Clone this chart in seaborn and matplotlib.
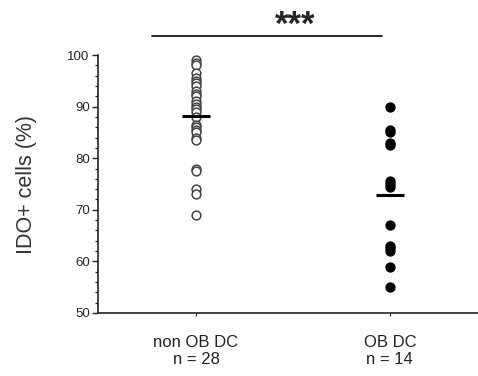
import numpy as np
import pandas as pd
import matplotlib
matplotlib.use("Agg")
import matplotlib.pyplot as plt
import seaborn as sns
from matplotlib.ticker import MultipleLocator

categories = ["non OB DC\nn = 28", "OB DC\nn = 14"]
non_ob = [99, 98.5, 98, 96.5, 95.5, 95, 94.5, 94, 93, 92.5, 92, 91, 90.5, 90,
          89.5, 89, 88, 86.5, 86, 85.5, 85, 84, 83.5, 78, 77.5, 74, 73, 69]
ob = [90, 85.5, 85, 83, 82.5, 75.5, 75, 74.5, 67, 63, 62.5, 62, 59, 55]
y_label = "IDO+ cells (%)"
sig_text = "***"

df = pd.DataFrame({
    "group": [categories[0]] * len(non_ob) + [categories[1]] * len(ob),
    "value": non_ob + ob,
})

sns.set_style("ticks")
plt.rcParams["font.family"] = ["Liberation Sans", "DejaVu Sans"]

fig = plt.figure(figsize=(4.78, 3.76), dpi=100)
ax = fig.add_axes([0.205, 0.1676, 0.795, 0.686])

sns.stripplot(data=df, x="group", y="value", order=categories, jitter=False,
              color="black", size=6.3, linewidth=1.1, edgecolor="black", ax=ax)
open_pts = ax.collections[0]
open_pts.set_facecolor("white")
open_pts.set_edgecolor("#444444")

means = [np.mean(non_ob), np.mean(ob)]
for i, m in enumerate(means):
    ax.hlines(m, i - 0.072, i + 0.072, color="black", lw=2.2, zorder=5)

ax.set_xlim(-0.506, 1.455)
ax.set_ylim(50, 100)
ax.yaxis.set_major_locator(MultipleLocator(10))
ax.yaxis.set_minor_locator(MultipleLocator(2))
ax.tick_params(axis="y", which="major", length=4, width=1, labelsize=9.5, pad=2, color="#222")
ax.tick_params(axis="y", which="minor", length=2.5, width=0.9, color="#222")
ax.tick_params(axis="x", length=2, width=0.8, labelsize=12, pad=14, color="#222")
ax.set_xlabel("")
ax.set_ylabel(y_label, fontsize=15.5, labelpad=22, color="#333")
for s in ["top", "right"]:
    ax.spines[s].set_visible(False)
for s in ["left", "bottom"]:
    ax.spines[s].set_linewidth(1.2)
    ax.spines[s].set_color("#222")
for lbl in ax.get_xticklabels():
    lbl.set_color("#222")
    lbl.set_linespacing(1.15)

ax.plot([-0.228, 0.959], [103.7, 103.7], color="black", lw=1.2, clip_on=False)
ax.text(0.51, 104.0, sig_text, ha="center", va="baseline", fontsize=25,
        fontweight="bold", family="Liberation Sans", clip_on=False)

fig.savefig("out.png", dpi=100)
